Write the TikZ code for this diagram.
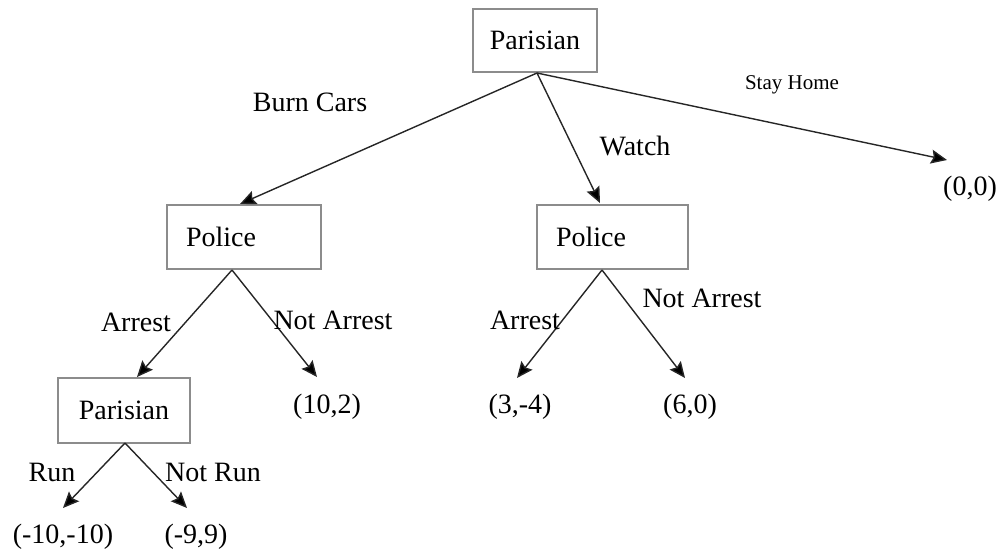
\documentclass[tikz,border=0pt]{standalone}
\usepackage{fontspec}
\setmainfont{Liberation Serif}
\usetikzlibrary{arrows.meta}
\begin{document}
\begin{tikzpicture}[x=1pt,y=-1pt,
  box/.style={draw=black!45,line width=2pt,minimum height=64pt,inner sep=0pt,font=\fontsize{28}{30}\selectfont},
  lbl/.style={inner sep=0pt,font=\fontsize{28}{30}\selectfont},
  small/.style={inner sep=0pt,font=\fontsize{21}{24}\selectfont},
  arr/.style={draw=black!85,line width=1.4pt,-{Stealth[length=16pt,width=14pt,inset=2.5pt,fill=black]}}]
\useasboundingbox (0,0) rectangle (1002,559);
% boxes
\node[box,minimum width=124pt,minimum height=63pt] (p0) at (535,40.5) {Parisian};
\node[box,minimum width=154pt,text width=116pt,inner xsep=19pt,align=left] (pol1) at (244,237) {Police};
\node[box,minimum width=151pt,text width=113pt,inner xsep=19pt,align=left] (pol2) at (612.5,237) {Police};
\node[box,minimum width=132pt,minimum height=65pt] (p1) at (124,410.5) {Parisian};
% origins
\coordinate (o0) at (537,73);
\coordinate (o1) at (232,270);
\coordinate (o2) at (602,270);
\coordinate (o3) at (125,443);
% tips
\coordinate (t1) at (240,204);
\coordinate (t2) at (600,203);
\coordinate (t3) at (947,160);
\coordinate (t4) at (137,377);
\coordinate (t5) at (317,377);
\coordinate (t6) at (517,378);
\coordinate (t7) at (685,378);
\coordinate (t8) at (63,508);
\coordinate (t9) at (187,508);
% arrows
\draw[arr] (o0) -- (t1);
\draw[arr] (o0) -- (t2);
\draw[arr] (o0) -- (t3);
\draw[arr] (o1) -- (t4);
\draw[arr] (o1) -- (t5);
\draw[arr] (o2) -- (t6);
\draw[arr] (o2) -- (t7);
\draw[arr] (o3) -- (t8);
\draw[arr] (o3) -- (t9);
% edge labels
\node[lbl] (l1) at (310,102) {Burn Cars};
\node[lbl] (l2) at (635,146) {Watch};
\node[small] (l3) at (792,85) {Stay Home};
\node[lbl] (l4) at (136,322) {Arrest};
\node[lbl] (l5) at (333,320) {Not Arrest};
\node[lbl] (l6) at (525,320) {Arrest};
\node[lbl] (l7) at (702,298) {Not Arrest};
\node[lbl] (l8) at (52,472) {Run};
\node[lbl] (l9) at (213,472) {Not Run};
% payoffs
\node[lbl] (v1) at (970,189) {(0,0)};
\node[lbl] (v2) at (327,407) {(10,2)};
\node[lbl] (v3) at (520,407) {(3,-4)};
\node[lbl] (v4) at (690,407) {(6,0)};
\node[lbl] (v5) at (63,537) {(-10,-10)};
\node[lbl] (v6) at (196,537) {(-9,9)};
\end{tikzpicture}
\end{document}
